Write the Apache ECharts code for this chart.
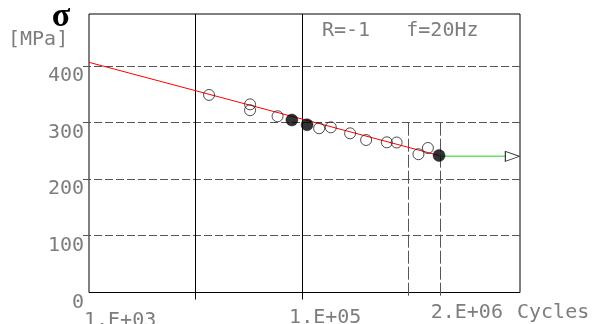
<!DOCTYPE html>
<html>
<head>
<meta charset="utf-8">
<script src="https://cdn.jsdelivr.net/npm/echarts@6/dist/echarts.min.js"></script>
<style>
html,body{margin:0;padding:0;background:#fff;}
#chart{width:595px;height:324px;}
</style>
</head>
<body>
<div id="chart"></div>
<script>
// ---- data ----
const cyclesOpen = [13390, 32480, 32480, 58880, 144500, 186000, 282300, 399000, 624300, 771000, 1236000, 1517000];
const stressOpen = [349, 332.4, 322, 311.3, 290.1, 291.8, 281.2, 269.4, 265.3, 265, 244.3, 255.3];
const cyclesFailedFilled = [80170, 111400, 1930000];
const stressFailedFilled = [304.7, 296.4, 242];
const fitCycles = [1000, 1930000];
const fitStress = [406.6, 242];
const runoutCycles = [1930000, 9410000];
const runoutStress = [240.5, 240.5];
const yTickValues = [0, 100, 200, 300, 400];
const xMajorLines = [10000, 100000];
const xRefLines = [1000000, 2000000];
const xRefTop = 300;
const xTickValues = [1000, 100000, 2000000];
const xTickLabels = ['1.E+03', '1.E+05', '2.E+06'];
const X_MIN = 1000, X_MAX = 11100000;
const Y_MIN = 0, Y_MAX = 492;

const zip = (a, b) => a.map((v, i) => [v, b[i]]);
const crisp = v => Math.round(v - 0.5) + 0.5;
const FONT = 'DejaVu Sans Mono';
const TXT = '#7d7d7d';

const chart = echarts.init(document.getElementById('chart'), null, {renderer: 'canvas'});

const option = {
  animation: false,
  backgroundColor: '#fff',
  grid: {left: 89, top: 14, right: 75, bottom: 31.5, show: true, borderColor: '#000', borderWidth: 1, backgroundColor: 'transparent'},
  xAxis: {
    type: 'log', logBase: 10, min: X_MIN, max: X_MAX,
    axisLine: {show: false}, axisTick: {show: false}, axisLabel: {show: false}, splitLine: {show: false}
  },
  yAxis: {
    type: 'value', min: Y_MIN, max: Y_MAX, interval: 100,
    axisLine: {show: false}, axisTick: {show: false}, splitLine: {show: false},
    axisLabel: {
      margin: 5, fontFamily: FONT, fontSize: 20, color: TXT, verticalAlign: 'top', lineHeight: 20,
      formatter: v => yTickValues.includes(v) ? String(v) : ''
    }
  },
  series: [
    { // horizontal dashed grid lines with left ticks
      type: 'custom', silent: true, clip: false, z: 1,
      data: yTickValues.filter(v => v > 0).map(v => [X_MIN, v]),
      renderItem: (params, api) => {
        const p0 = api.coord([X_MIN, api.value(1)]);
        const p1 = api.coord([X_MAX, api.value(1)]);
        const y = crisp(p0[1]);
        return {type: 'line', shape: {x1: Math.round(p0[0]) - 6, y1: y, x2: Math.round(p1[0]), y2: y},
          style: {stroke: '#555', lineWidth: 1, lineDash: [8, 3]}};
      }
    },
    { // solid decade lines
      type: 'custom', silent: true, clip: false, z: 2,
      data: xMajorLines.map(v => [v, Y_MAX]),
      renderItem: (params, api) => {
        const p0 = api.coord([api.value(0), Y_MAX]);
        const p1 = api.coord([api.value(0), Y_MIN]);
        const x = crisp(p0[0]);
        return {type: 'line', shape: {x1: x, y1: p0[1], x2: x, y2: p1[1] + 7},
          style: {stroke: '#000', lineWidth: 1}};
      }
    },
    { // dashed reference lines
      type: 'custom', silent: true, clip: false, z: 2,
      data: xRefLines.map(v => [v, xRefTop]),
      renderItem: (params, api) => {
        const p0 = api.coord([api.value(0), api.value(1)]);
        const p1 = api.coord([api.value(0), Y_MIN]);
        const x = crisp(p0[0]);
        return {type: 'line', shape: {x1: x, y1: p0[1], x2: x, y2: p1[1] + 6},
          style: {stroke: '#555', lineWidth: 1, lineDash: [13, 3]}};
      }
    },
    { // fitted S-N line
      type: 'line', data: zip(fitCycles, fitStress), symbol: 'none', z: 3,
      lineStyle: {color: '#ff0000', width: 1}
    },
    { // runout line with arrow
      type: 'line', z: 3,
      data: zip(runoutCycles, runoutStress).map((d, i) => ({
        value: d,
        symbol: i === runoutCycles.length - 1 ? 'path://M0,0 L14,5 L0,10 Z' : 'none'
      })),
      symbolSize: [14, 10], showSymbol: true, symbolKeepAspect: false,
      itemStyle: {color: '#fff', borderColor: '#333', borderWidth: 1},
      lineStyle: {color: '#66e266', width: 1.5}
    },
    { // open circles
      type: 'scatter', z: 4, data: zip(cyclesOpen, stressOpen), symbol: 'circle', symbolSize: 11,
      itemStyle: {color: 'rgba(0,0,0,0)', borderColor: '#222', borderWidth: 1}
    },
    { // filled circles
      type: 'scatter', z: 5, data: zip(cyclesFailedFilled, stressFailedFilled), symbol: 'circle', symbolSize: 12,
      itemStyle: {color: '#000', borderColor: '#000', borderWidth: 0.5}
    }
  ],
  graphic: []
};
chart.setOption(option);

// text annotations and x tick labels positioned through the axis scale
const labelOffsets = [[-5, 311], [-13, 308], [-10, 302.5]];
const g = [];
xTickValues.forEach((v, i) => {
  const px = chart.convertToPixel({xAxisIndex: 0}, v);
  g.push({type: 'text', x: px + labelOffsets[i][0], y: labelOffsets[i][1], silent: true,
    style: {text: xTickLabels[i], fontFamily: FONT, fontSize: 20, fill: TXT, verticalAlign: 'top', lineHeight: 20}});
});
g.push({type: 'text', x: 517, y: 302.5, silent: true,
  style: {text: 'Cycles', fontFamily: FONT, fontSize: 20, fill: TXT, verticalAlign: 'top', lineHeight: 20}});
g.push({type: 'text', x: 8, y: 30, silent: true,
  style: {text: '[MPa]', fontFamily: FONT, fontSize: 20, fill: TXT, verticalAlign: 'top', lineHeight: 20}});
g.push({type: 'text', x: 322, y: 21, silent: true,
  style: {text: 'R=-1   f=20Hz', fontFamily: FONT, fontSize: 20, fill: TXT, verticalAlign: 'top', lineHeight: 20}});
g.push({type: 'text', x: 61, y: 17, silent: true,
  style: {text: 'σ', fontFamily: 'Liberation Serif', fontWeight: 'bold', fontSize: 34, fill: '#000', align: 'center', verticalAlign: 'middle'}});
chart.setOption({graphic: g});
</script>
</body>
</html>
